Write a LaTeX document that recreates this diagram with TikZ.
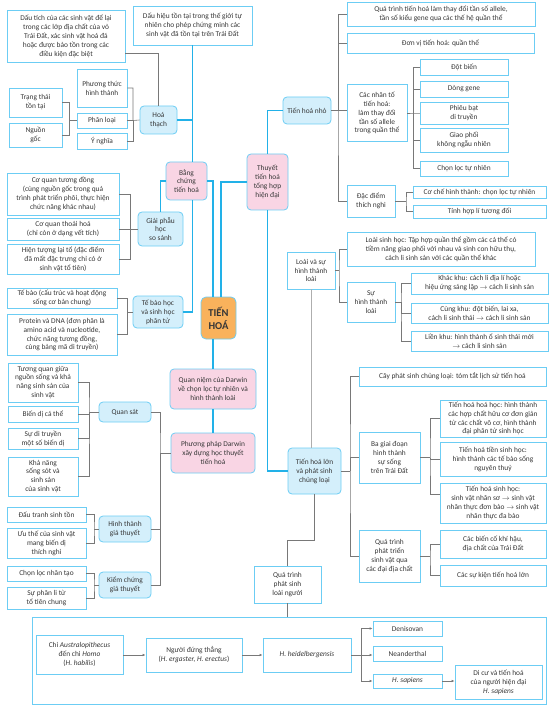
\documentclass[tikz,border=0pt]{standalone}
\usepackage{fontspec}
\setmainfont{Carlito}
\usepackage{tikz}
\usetikzlibrary{
	arrows.meta,
	positioning
}
\definecolor{BoxBlue}{RGB}{108,205,244}
\definecolor{LineBlue}{RGB}{34,177,232}
\definecolor{MidBlue}{RGB}{212,239,251}
\definecolor{SoftPink}{RGB}{249,213,228}
\definecolor{RootOrange}{RGB}{249,178,92}
\definecolor{LineGray}{RGB}{120,120,120}
\definecolor{TextGray}{RGB}{55,55,55}

\begin{document}
\begin{tikzpicture}[x=1pt,y=-1pt,
		every node/.style={font=\fontsize{7.4}{8.9}\selectfont,text=TextGray},
		sz/.style 2 args={minimum width=#1pt,minimum height=#2pt},
		leaf/.style={draw=BoxBlue,line width=0.8pt,fill=white,align=center,inner xsep=2pt,inner ysep=0.5pt},
		mid/.style={leaf,fill=MidBlue,rounded corners=4pt},
		pinkbox/.style={leaf,fill=SoftPink,rounded corners=4pt},
		rootbox/.style={leaf,fill=RootOrange,rounded corners=5pt,font=\fontsize{10.5}{13}\selectfont\bfseries},
		mainline/.style={LineBlue,line width=1.7pt},
		subline/.style={LineGray,line width=0.6pt},
		arr/.style={subline,-{Latex[length=3pt,width=2.6pt]}}]
		\useasboundingbox (0,0) rectangle (552,711);
		
		% Nut goc
		\node[rootbox,sz={35}{42}] (root) at (218.5,318) {TIẾN\\HOÁ};
		
		% Bang chung tien hoa
		\node[pinkbox,sz={41}{38}] (bangchung) at (186.5,181) {Bằng\\chứng\\tiến hoá};
		\node[leaf,sz={119}{39}] (dauhieu) at (192.5,25.5) {Dấu hiệu tồn tại trong thế giới tự\\nhiên cho phép chứng minh các\\sinh vật đã tồn tại trên Trái Đất};
		\node[mid,sz={37}{28}] (hoathach) at (158.5,120) {Hoá\\thạch};
		\node[leaf,sz={118}{52}] (dautich) at (66,36) {Dấu tích của các sinh vật để lại\\trong các lớp địa chất của vỏ\\Trái Đất, xác sinh vật hoá đá\\hoặc được bảo tồn trong các\\điều kiện đặc biệt};
		\node[leaf,sz={50}{38}] (phuongthuc) at (102,88) {Phương thức\\hình thành};
		\node[leaf,sz={50}{15}] (phanloai) at (102,120.5) {Phân loại};
		\node[leaf,sz={50}{16}] (ynghia) at (102,141) {Ý nghĩa};
		\node[leaf,sz={53}{29}] (trangthai) at (35.5,102.5) {Trạng thái\\tồn tại};
		\node[leaf,sz={53}{24}] (nguongoc) at (35.5,135) {Nguồn\\gốc};
		
		\node[mid,sz={45}{34}] (giaiphau) at (160.5,229) {Giải phẫu\\học\\so sánh};
		\node[leaf,sz={112}{42}] (tuongdong) at (63,194) {Cơ quan tương đồng\\(cùng nguồn gốc trong quá\\trình phát triển phôi, thực hiện\\chức năng khác nhau)};
		\node[leaf,sz={112}{22}] (thoaihoa) at (63,229) {Cơ quan thoái hoá\\(chỉ còn ở dạng vết tích)};
		\node[leaf,sz={112}{30}] (laito) at (63,259) {Hiện tượng lại tổ (đặc điểm\\đã mất đặc trưng chỉ có ở\\sinh vật tổ tiên)};
		
		\node[mid,sz={50}{32}] (tebaohoc) at (158,312) {Tế bào học\\và sinh học\\phân tử};
		\node[leaf,sz={110}{20}] (tebao) at (62,298) {Tế bào (cấu trúc và hoạt động\\sống cơ bản chung)};
		\node[leaf,sz={110}{41}] (protein) at (62,334.5) {Protein và DNA (đơn phân là\\amino acid và nucleotide,\\chức năng tương đồng,\\cùng bảng mã di truyền)};
		
		% Thuyet tien hoa tong hop hien dai
		\node[pinkbox,sz={41}{56}] (thuyet) at (267.5,182) {Thuyết\\tiến hoá\\tổng hợp\\hiện đại};
		\node[mid,sz={48}{27}] (tienhoanho) at (307,110.5) {Tiến hoá nhỏ};
		\node[leaf,sz={188}{24}] (quatrinh) at (441,14) {Quá trình tiến hoá làm thay đổi tần số allele,\\tần số kiểu gene qua các thế hệ quần thể};
		\node[leaf,sz={187}{20}] (donvi) at (440.5,43) {Đơn vị tiến hoá: quần thể};
		\node[leaf,sz={60}{57}] (nhanto) at (377,113) {Các nhân tố\\tiến hoá:\\làm thay đổi\\tần số allele\\trong quần thể};
		\node[leaf,sz={88}{16}] (dotbien) at (464,67) {Đột biến};
		\node[leaf,sz={88}{16}] (donggene) at (464,89) {Dòng gene};
		\node[leaf,sz={88}{22}] (phieubat) at (464,113) {Phiêu bạt\\di truyền};
		\node[leaf,sz={88}{24}] (giaophoi) at (464,140) {Giao phối\\không ngẫu nhiên};
		\node[leaf,sz={88}{15}] (chonloc) at (464,168.5) {Chọn lọc tự nhiên};
		\node[leaf,sz={48}{32}] (dacdiem) at (371,201) {Đặc điểm\\thích nghi};
		\node[leaf,sz={133}{12}] (coche) at (479.5,192.5) {Cơ chế hình thành: chọn lọc tự nhiên};
		\node[leaf,sz={133}{13}] (tinhhopli) at (479.5,211.5) {Tính hợp lí tương đối};
		
		\node[leaf,sz={48}{37}] (loai) at (311,270.5) {Loài và sự\\hình thành\\loài};
		\node[leaf,sz={188}{34}] (loaisinhhoc) at (441,249) {Loài sinh học: Tập hợp quần thể gồm các cá thể có\\tiềm năng giao phối với nhau và sinh con hữu thụ,\\cách li sinh sản với các quần thể khác};
		\node[leaf,sz={48}{40}] (suhinhthanh) at (371,302) {Sự\\hình thành\\loài};
		\node[leaf,sz={137}{21}] (khackhu) at (479.5,283.5) {Khác khu: cách li địa lí hoặc\\hiệu ứng sáng lập $\rightarrow$ cách li sinh sản};
		\node[leaf,sz={137}{20}] (cungkhu) at (479.5,313) {Cùng khu: đột biến, lai xa,\\cách li sinh thái $\rightarrow$ cách li sinh sản};
		\node[leaf,sz={137}{20}] (lienkhu) at (479.5,341) {Liền khu: hình thành ổ sinh thái mới\\$\rightarrow$ cách li sinh sản};
		
		\node[mid,sz={53}{46}] (tienhoalon) at (314.5,471) {Tiến hoá lớn\\và phát sinh\\chủng loại};
		\node[leaf,sz={187}{19}] (cayphatsinh) at (452.5,376.5) {Cây phát sinh chủng loại: tóm tắt lịch sử tiến hoá};
		\node[leaf,sz={61}{51}] (bagiaidoan) at (389.5,457.5) {Ba giai đoạn\\hình thành\\sự sống\\trên Trái Đất};
		\node[leaf,sz={106}{37}] (hoahoc) at (493,418.5) {Tiến hoá hoá học: hình thành\\các hợp chất hữu cơ đơn giản\\từ các chất vô cơ, hình thành\\đại phân tử sinh học};
		\node[leaf,sz={106}{34}] (tiensinh) at (493,459) {Tiến hoá tiền sinh học:\\hình thành các tế bào sống\\nguyên thuỷ};
		\node[leaf,sz={106}{40}] (sinhhoc) at (493,503) {Tiến hoá sinh học:\\sinh vật nhân sơ $\rightarrow$ sinh vật\\nhân thực đơn bào $\rightarrow$ sinh vật\\nhân thực đa bào};
		\node[leaf,sz={61}{52}] (quatrinhpt) at (389.5,556) {Quá trình\\phát triển\\sinh vật qua\\các đại địa chất};
		\node[leaf,sz={106}{28}] (bienco) at (493,544) {Các biến cố khí hậu,\\địa chất của Trái Đất};
		\node[leaf,sz={106}{21}] (sukien) at (493,575.5) {Các sự kiện tiến hoá lớn};
		
		% Qua trinh phat sinh loai nguoi
		\node[leaf,sz={67}{37}] (loainguoi) at (287.5,584.5) {Quá trình\\phát sinh\\loài người};
		\node[draw=BoxBlue,line width=0.8pt,minimum width=514pt,minimum height=87pt,inner sep=0pt] (khung) at (289,660.5) {};
		\node[leaf,sz={87}{39}] (australo) at (79.5,654.5) {Chi \textit{Australopithecus}\\đến chi \textit{Homo}\\(\textit{H. habilis})};
		\node[leaf,sz={96}{34}] (dungthang) at (194,655) {Người đứng thẳng\\(\textit{H. ergaster, H. erectus})};
		\node[leaf,sz={88}{34}] (heidel) at (307,655) {\textit{H. heidelbergensis}};
		\node[leaf,sz={69}{15}] (denisovan) at (407.5,628.5) {Denisovan};
		\node[leaf,sz={69}{15}] (neander) at (407.5,653.5) {Neanderthal};
		\node[leaf,sz={69}{14}] (sapiens) at (407.5,681) {\textit{H. sapiens}};
		\node[leaf,sz={87}{34}] (dicu) at (498.5,682) {Di cư và tiến hoá\\của người hiện đại\\\textit{H. sapiens}};
		
		% Quan niem va phuong phap Darwin
		\node[pinkbox,sz={86}{40}] (quanniem) at (213,389) {Quan niệm của Darwin\\về chọn lọc tự nhiên và\\hình thành loài};
		\node[pinkbox,sz={84}{40}] (phuongphap) at (213,453) {Phương pháp Darwin\\xây dựng học thuyết\\tiến hoá};
		\node[mid,sz={52}{20}] (quansat) at (125,412) {Quan sát};
		\node[mid,sz={52}{26}] (hinhthanh) at (125,529) {Hình thành\\giả thuyết};
		\node[mid,sz={52}{26}] (kiemchung) at (125,585) {Kiểm chứng\\giả thuyết};
		\node[leaf,sz={70}{39}] (tuongquan) at (43,382.5) {Tương quan giữa\\nguồn sống và khả\\năng sinh sản của\\sinh vật};
		\node[leaf,sz={70}{16}] (biendi) at (43,414) {Biến dị cá thể};
		\node[leaf,sz={70}{21}] (suditruyen) at (43,438.5) {Sự di truyền\\một số biến dị};
		\node[leaf,sz={70}{39}] (khanang) at (43,476.5) {Khả năng\\sống sót và\\sinh sản\\của sinh vật};
		\node[leaf,sz={79}{15}] (dautranh) at (46.5,514.5) {Đấu tranh sinh tồn};
		\node[leaf,sz={79}{30}] (uuthe) at (46.5,543) {Ưu thế của sinh vật\\mang biến dị\\thích nghi};
		\node[leaf,sz={79}{15}] (chonlocnt) at (46.5,573.5) {Chọn lọc nhân tạo};
		\node[leaf,sz={79}{22}] (phanli) at (46.5,598) {Sự phân li từ\\tổ tiên chung};
		
		% Diem re nhanh
		\coordinate (b1) at (69,120.5);
		\coordinate (b2) at (133,120.5);
		\coordinate (b3) at (130,229);
		\coordinate (b4) at (127,312);
		\coordinate (b5) at (338,110.5);
		\coordinate (b6) at (413,113);
		\coordinate (b7) at (406,201);
		\coordinate (b8) at (339,270.5);
		\coordinate (b9) at (401,302);
		\coordinate (b10) at (350,471);
		\coordinate (b11) at (430,457.5);
		\coordinate (b12) at (430,556);
		\coordinate (b13) at (361,655);
		\coordinate (b14) at (160,453);
		\coordinate (b15) at (89,412);
		\coordinate (b16) at (94,529);
		\coordinate (b17) at (94,585);
		
		% Nhanh chinh (xanh)
		\draw[mainline] (bangchung.east) -| ([xshift=-5.5pt]root.north);
		\draw[mainline] (thuyet.west) -| ([xshift=2.5pt]root.north);
		\draw[mainline] (root.south -| quanniem.north) -- (quanniem.north);
		\draw[mainline] (quanniem.south) -- (phuongphap.north);
		\draw[mainline] (dauhieu.south) -- (dauhieu.south |- bangchung.north);
		\draw[mainline] (hoathach.east) -- (hoathach.east -| dauhieu.south);
		\draw[mainline] (bangchung.west) -| (giaiphau.north);
		\draw[mainline] (dauhieu.south |- bangchung.south) |- (tebaohoc.east);
		\draw[mainline] (thuyet.north) |- (tienhoanho.west);
		\draw[mainline] (thuyet.south) |- (tienhoalon.west);
		
		% Nhanh phu (xam)
		\draw[subline] ([yshift=-17pt]dautich.east) -| (hoathach.north);
		\draw[subline] (trangthai.east) -| (b1) -- (phanloai.west);
		\draw[subline] (nguongoc.east) -| (b1);
		\draw[subline] (phuongthuc.east) -| (b2) -- (hoathach.west);
		\draw[subline] (ynghia.east) -| (b2);
		\draw[subline] (phanloai.east) -- (b2);
		\draw[subline] (tuongdong.east) -| (b3) -- (giaiphau.west);
		\draw[subline] (laito.east) -| (b3);
		\draw[subline] (thoaihoa.east) -- (b3);
		\draw[subline] (tebao.east) -| (b4) -- (tebaohoc.west);
		\draw[subline] (protein.east) -| (b4);
		
		\draw[subline] (tienhoanho.east) -- (b5) -- (nhanto.west |- b5);
		\draw[subline] (quatrinh.west) -| (b5) |- (dacdiem.west);
		\draw[subline] (donvi.west) -| (b5);
		\draw[subline] (dotbien.west) -| (b6) |- (chonloc.west);
		\draw[subline] (donggene.west) -| (b6);
		\draw[subline] (phieubat.west) -- (b6) -- (nhanto.east);
		\draw[subline] (giaophoi.west) -| (b6);
		\draw[subline] (coche.west) -| (b7) |- (tinhhopli.west);
		\draw[subline] (dacdiem.east) -- (b7);
		
		\draw[subline] (loai.east) -- (b8);
		\draw[subline] (loaisinhhoc.west) -| (b8) |- (suhinhthanh.west);
		\draw[subline] (suhinhthanh.east) -- (b9);
		\draw[subline] (khackhu.west) -| (b9) |- (lienkhu.west);
		\draw[subline] (cungkhu.west) -| (b9);
		\draw[subline,LineGray!60] (loai.south) -- (loai.south |- tienhoalon.north);
		
		\draw[subline] (tienhoalon.east) -- (b10);
		\draw[subline] (cayphatsinh.west) -| (b10) |- (quatrinhpt.west);
		\draw[subline] (bagiaidoan.west) -| (b10);
		\draw[subline] (bagiaidoan.east) -- (b11);
		\draw[subline] (hoahoc.west) -| (b11) |- ([yshift=9pt]sinhhoc.west);
		\draw[subline] (tiensinh.west) -| (b11);
		\draw[subline] (quatrinhpt.east) -- (b12);
		\draw[subline] (bienco.west) -| (b12) |- (sukien.west);
		
		\draw[subline] (tienhoalon.south) -- ++(0,46) -| (loainguoi.north);
		\draw[subline] (loainguoi.south) -- (loainguoi.south |- khung.north);
		\draw[arr] (australo.east |- dungthang.west) -- (dungthang.west);
		\draw[arr] (dungthang.east) -- (heidel.west);
		\draw[subline] (heidel.east) -- (b13);
		\draw[arr] (b13) |- (denisovan.west);
		\draw[arr] (b13) -- (neander.west |- b13);
		\draw[arr] (b13) |- (sapiens.west);
		\draw[arr] (sapiens.east) -- (dicu.west |- sapiens.east);
		
		\draw[subline] (phuongphap.west) -- (b14);
		\draw[subline] (quansat.east) -| (b14) |- (kiemchung.east);
		\draw[subline] (hinhthanh.east) -| (b14);
		\draw[subline] (tuongquan.east) -| (b15) |- (khanang.east);
		\draw[subline] (biendi.east) -| (b15) -- (quansat.west);
		\draw[subline] (suditruyen.east) -| (b15);
		\draw[subline] (dautranh.east) -| (b16) |- (uuthe.east);
		\draw[subline] (b16) -- (hinhthanh.west);
		\draw[subline] (chonlocnt.east) -| (b17) |- (phanli.east);
		\draw[subline] (b17) -- (kiemchung.west);
	\end{tikzpicture}
\end{document}
